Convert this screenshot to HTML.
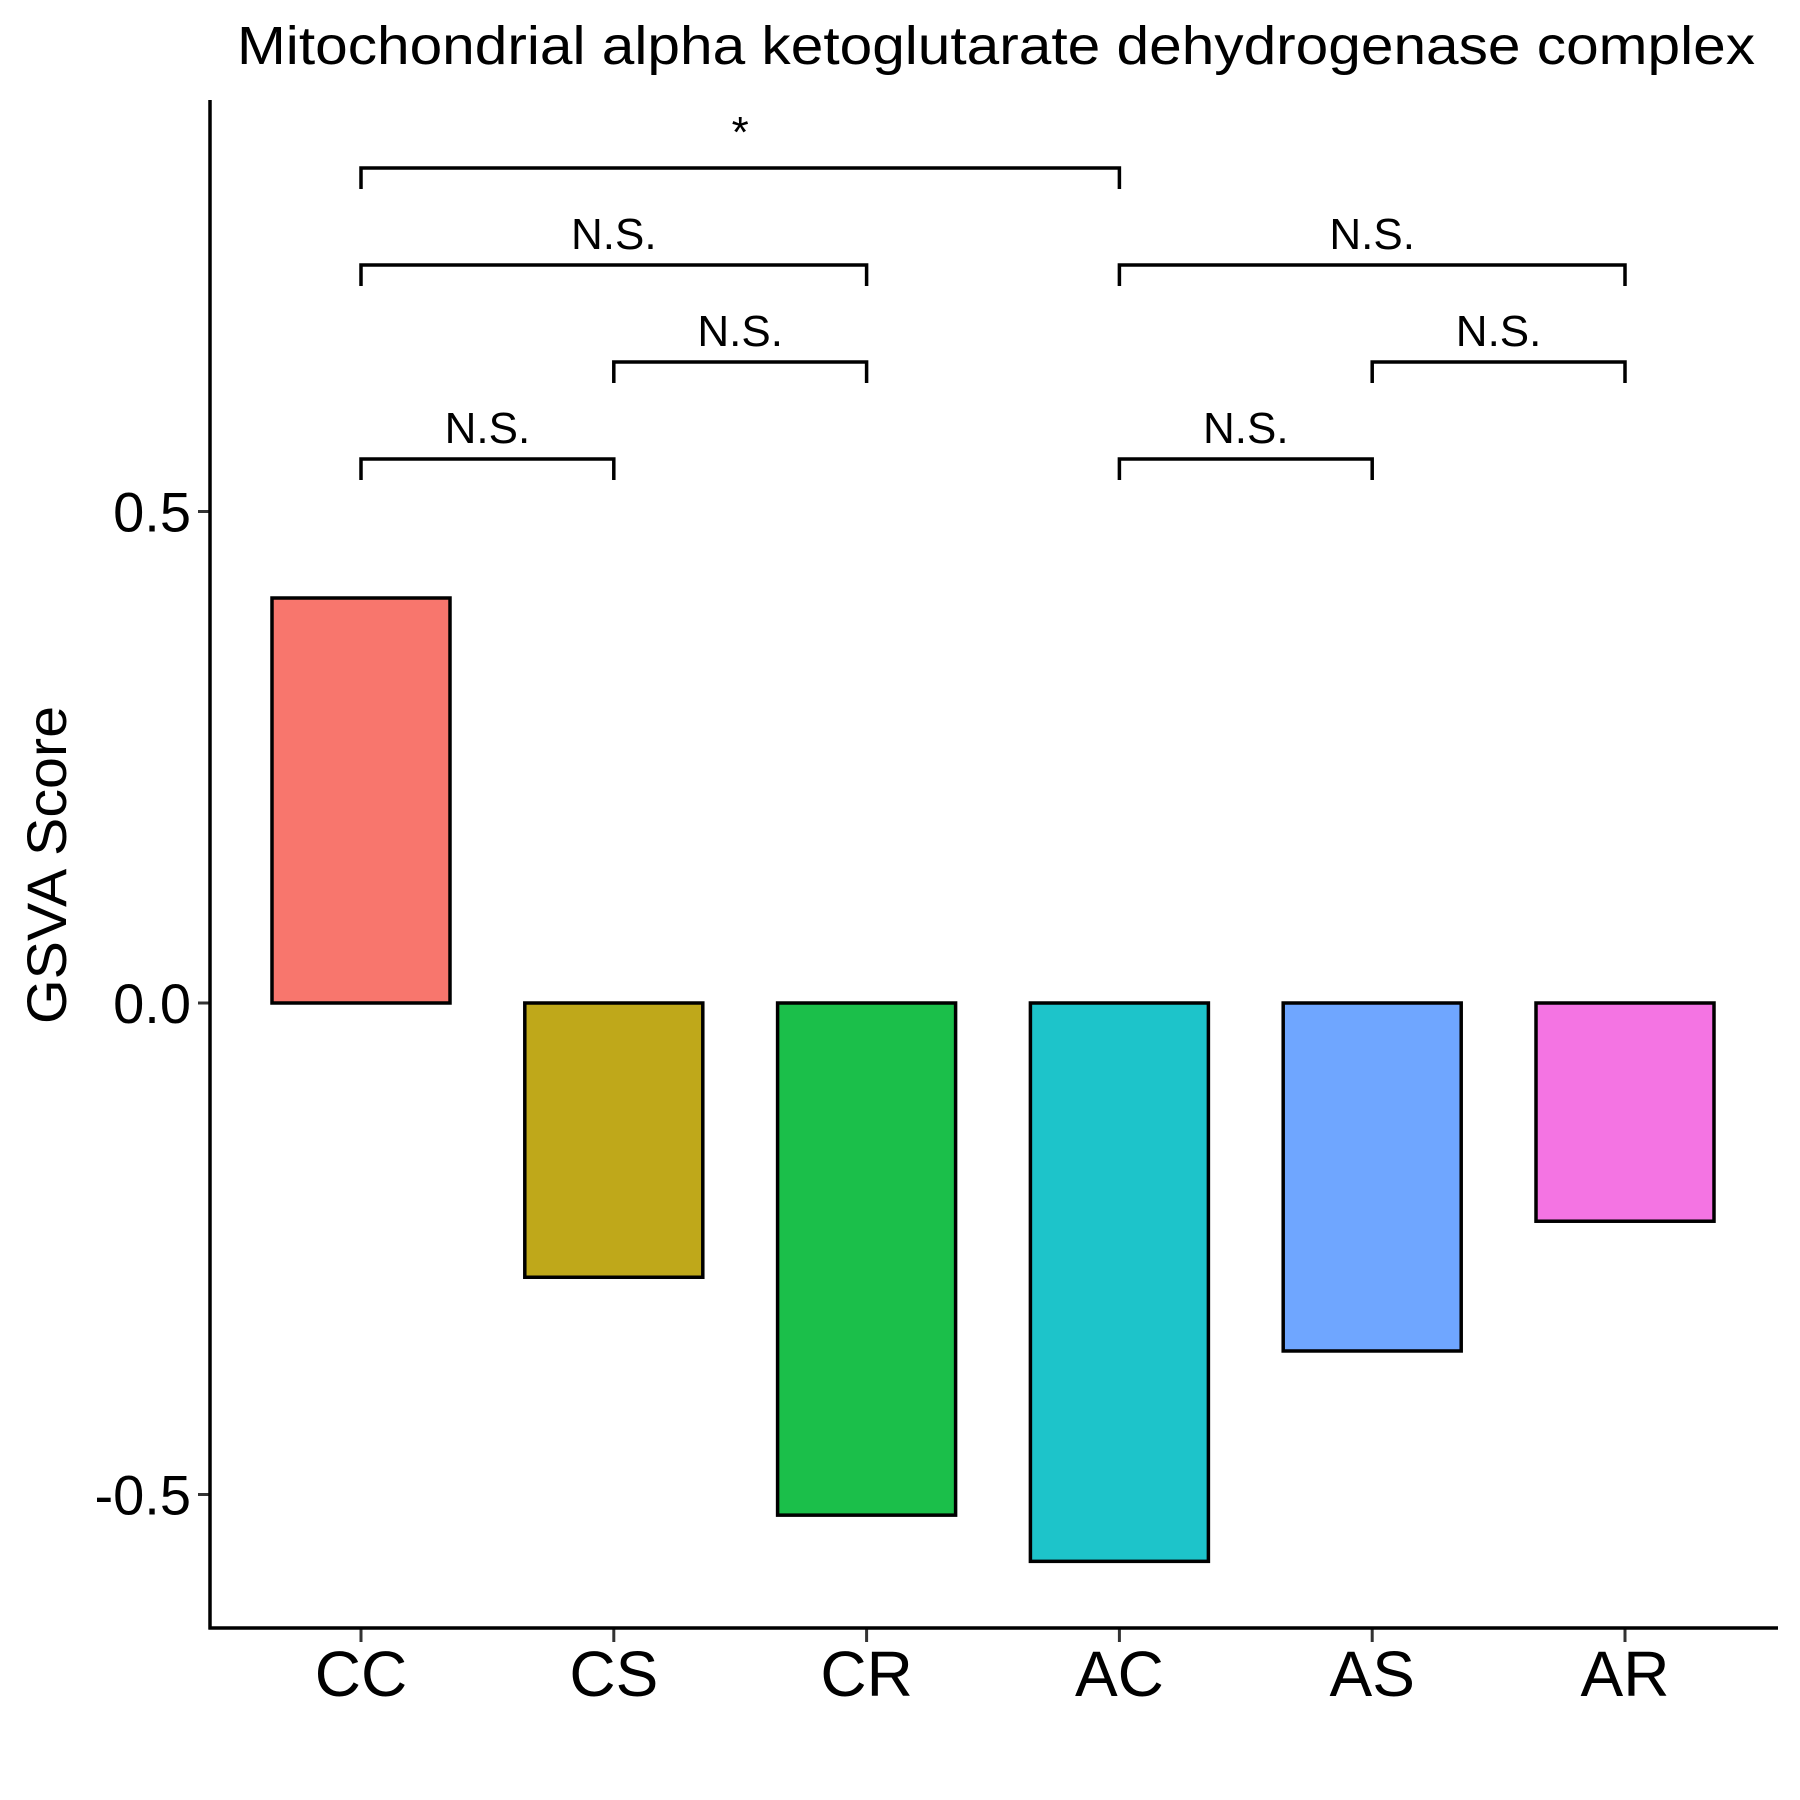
<!DOCTYPE html>
<html><head><meta charset="utf-8"><style>html,body{margin:0;padding:0;background:#fff}svg{display:block}</style></head>
<body>
<svg id="chart" width="1800" height="1800" viewBox="0 0 1800 1800" xmlns="http://www.w3.org/2000/svg" font-family="Liberation Sans, Arial, sans-serif">
<rect width="1800" height="1800" fill="#fff"/>
<text x="996" y="64" font-size="54" text-anchor="middle" textLength="1518" lengthAdjust="spacingAndGlyphs">Mitochondrial alpha ketoglutarate dehydrogenase complex</text>
<text transform="translate(66,865) rotate(-90)" font-size="56" text-anchor="middle" textLength="318" lengthAdjust="spacingAndGlyphs">GSVA Score</text>
<g id="plot"></g>
</svg>
<script>
const categories = ["CC","CS","CR","AC","AS","AR"];
const values = [0.412, -0.279, -0.521, -0.568, -0.354, -0.222];
const colors = ["#F8766D","#BFA81A","#1BBF4A","#1DC4CA","#6FA6FF","#F474E3"];
const yTicks = [0.5, 0.0, -0.5];
const yTickLabels = ["0.5","0.0","-0.5"];
const compFrom = ["CC","CC","CS","CC","AC","AS","AC"];
const compTo = ["CS","CR","CR","AC","AS","AR","AR"];
const compLabel = ["N.S.","N.S.","N.S.","*","N.S.","N.S.","N.S."];
const compLevel = [0,2,1,3,0,1,2];

const NS="http://www.w3.org/2000/svg";
const g=document.getElementById('plot');
const x0=210, yBottom=1628, xRight=1778;
function xPos(c){return 361+categories.indexOf(c)*252.8;}
function yPos(v){return 1003-v*983;}
function el(t,a){const e=document.createElementNS(NS,t);for(const k in a)e.setAttribute(k,a[k]);g.appendChild(e);return e;}

categories.forEach((c,i)=>{
  const y1=yPos(0), y2=yPos(values[i]);
  const r=el('rect',{x:xPos(c)-89,y:Math.min(y1,y2),width:178,height:Math.abs(y2-y1),fill:colors[i],stroke:'#000','stroke-width':3.5});
  
  
  const tk=el('line',{x1:xPos(c),x2:xPos(c),y1:yBottom,y2:yBottom+14,stroke:'#333','stroke-width':3});
  
  
  const t=el('text',{x:xPos(c),y:1696,'font-size':64,'text-anchor':'middle'});
  t.textContent=c;
  
  
});
yTicks.forEach((v,i)=>{
  const tk=el('line',{x1:x0-12,x2:x0,y1:yPos(v),y2:yPos(v),stroke:'#333','stroke-width':3});
  
  
  const t=el('text',{x:191,y:yPos(v)+20,'font-size':56,'text-anchor':'end'});
  t.textContent=yTickLabels[i];
  
  
});
const ya=el('line',{x1:x0,x2:x0,y1:100,y2:yBottom+1.5,stroke:'#000','stroke-width':3.5});


const xa=el('line',{x1:x0-1.5,x2:xRight,y1:yBottom,y2:yBottom,stroke:'#000','stroke-width':3.5});



compFrom.forEach((f,i)=>{
  const by=459-compLevel[i]*97, xa1=xPos(f), xb=xPos(compTo[i]);
  const p=el('path',{d:`M${xa1},${by+21}V${by}H${xb}V${by+21}`,fill:'none',stroke:'#000','stroke-width':3.5});
  
  
  const t=el('text',{x:(xa1+xb)/2,y:by-16+(compLabel[i]==='*'?-5:0),'font-size':44,'text-anchor':'middle'});
  t.textContent=compLabel[i];
  
  
});
</script>
</body></html>
